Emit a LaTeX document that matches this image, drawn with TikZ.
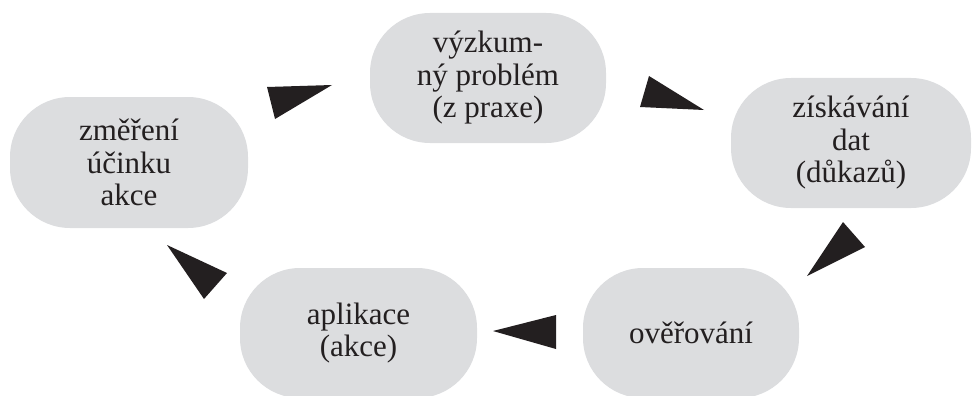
\documentclass[tikz,border=0pt]{standalone}
\usepackage{fontspec}
\setmainfont{Liberation Serif}
\definecolor{boxgray}{RGB}{220,221,223}
\definecolor{inkblack}{RGB}{35,31,32}
\begin{document}
\begin{tikzpicture}[x=1pt,y=-1pt,
  stage/.style={fill=boxgray, rounded corners=60pt, align=center,
    inner sep=0pt, text=inkblack,
    font=\fontsize{31}{32.5}\selectfont},
  wedge/.style={fill=inkblack}]
\useasboundingbox (0,0) rectangle (972,396);
\node[stage, minimum width=236pt, minimum height=130pt] (vyz) at (488,78) {výzkum-\\ný problém\\(z praxe)};
\node[stage, minimum width=240pt, minimum height=130pt] (zis) at (851,143) {získávání\\dat\\(důkazů)};
\node[stage, minimum width=216pt, minimum height=130pt] (ove) at (691,333) {ověřování};
\node[stage, minimum width=237pt, minimum height=130pt] (apl) at (358.5,333) {aplikace\\(akce)};
\node[stage, minimum width=238pt, minimum height=131pt] (zme) at (129,162.5) {změření\\účinku\\akce};
% wedges (arrowheads of the cycle)
\fill[wedge] (267,87) -- (332,85) -- (275,119) -- cycle;
\fill[wedge] (649,76) -- (704,110) -- (640,107) -- cycle;
\fill[wedge] (843,222) -- (865,247) -- (807,276) -- cycle;
\fill[wedge] (556,315) -- (556,349) -- (493,331) -- cycle;
\fill[wedge] (227,273) -- (204,299) -- (167,245) -- cycle;
\end{tikzpicture}
\end{document}
